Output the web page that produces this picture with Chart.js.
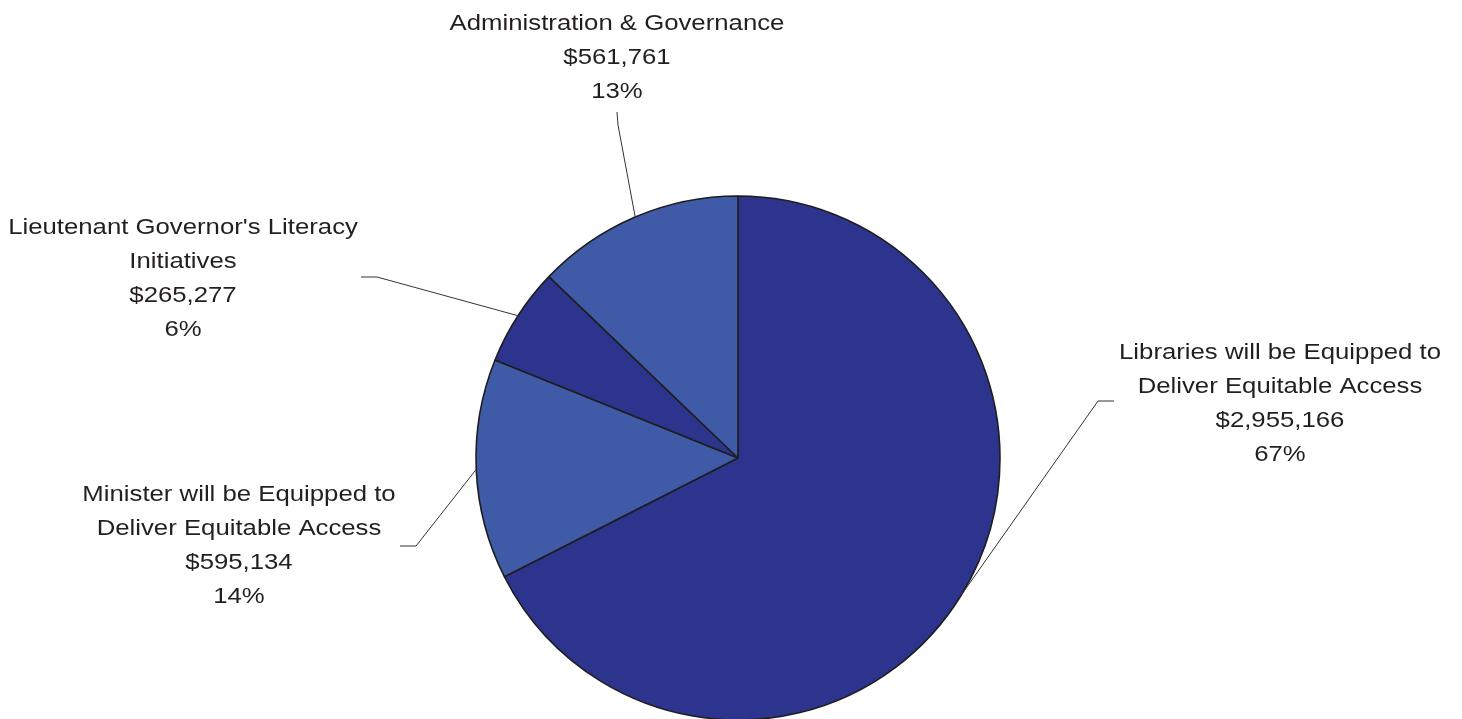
<!DOCTYPE html>
<html>
<head>
<meta charset="utf-8">
<script src="https://cdn.jsdelivr.net/npm/chart.js@4/dist/chart.umd.min.js"></script>
<style>
  html, body { margin: 0; padding: 0; background: #fff; overflow: hidden; }
  #wrap { position: relative; width: 1462px; height: 724px; }
</style>
</head>
<body>
<div id="wrap"><canvas id="pie"></canvas></div>
<script>
  // Data
  const categories = [
    'Libraries will be Equipped to Deliver Equitable Access',
    'Minister will be Equipped to Deliver Equitable Access',
    "Lieutenant Governor's Literacy Initiatives",
    'Administration & Governance'
  ];
  const labelLines = [
    ['Libraries will be Equipped to', 'Deliver Equitable Access'],
    ['Minister will be Equipped to', 'Deliver Equitable Access'],
    ["Lieutenant Governor's Literacy", 'Initiatives'],
    ['Administration & Governance']
  ];
  const amounts = [2955166, 595134, 265277, 561761];
  const percentLabels = ['67%', '14%', '6%', '13%'];
  const sliceColors = ['#2d348e', '#3f5ba8', '#2d348e', '#3f5ba8'];

  // where each callout sits: text centre, first line y, elbow and end of the leader
  const callouts = [
    { x: 1280, y: 353, elbow: [1098, 401], end: [1114, 401] },
    { x: 239, y: 495, elbow: [416, 546], end: [400, 546] },
    { x: 183, y: 228, elbow: [377, 277], end: [361, 277] },
    { x: 617, y: 24, elbow: [618, 125], end: [617, 112] }
  ];
  const lineGap = 34;

  const fmtMoney = v => '$' + Number(v).toLocaleString('en-US');

  const calloutPlugin = {
    id: 'callouts',
    afterDatasetsDraw(chart) {
      const ctx = chart.ctx;
      const meta = chart.getDatasetMeta(0);
      ctx.save();
      meta.data.forEach((arc, i) => {
        const c = callouts[i];
        const mid = (arc.startAngle + arc.endAngle) / 2;
        const ex = arc.x + Math.cos(mid) * arc.outerRadius;
        const ey = arc.y + Math.sin(mid) * arc.outerRadius;

        ctx.strokeStyle = '#333';
        ctx.lineWidth = 1;
        ctx.beginPath();
        ctx.moveTo(ex, ey);
        ctx.lineTo(c.elbow[0], c.elbow[1]);
        ctx.lineTo(c.end[0], c.end[1]);
        ctx.stroke();

        const lines = labelLines[i].concat([fmtMoney(amounts[i]), percentLabels[i]]);
        ctx.fillStyle = '#231f20';
        ctx.font = '22px "Liberation Sans", Arial, sans-serif';
        ctx.textAlign = 'center';
        ctx.textBaseline = 'middle';
        lines.forEach((t, k) => {
          ctx.save();
          ctx.translate(c.x, c.y + k * lineGap);
          ctx.scale(1.17, 1);
          ctx.fillText(t, 0, 0);
          ctx.restore();
        });
      });
      ctx.restore();
    }
  };

  new Chart(document.getElementById('pie'), {
    type: 'pie',
    data: {
      labels: categories,
      datasets: [{
        data: amounts,
        backgroundColor: sliceColors,
        borderColor: '#1e1e1e',
        borderWidth: 1.6,
        hoverOffset: 0,
        radius: 262
      }]
    },
    options: {
      responsive: true,
      maintainAspectRatio: false,
      animation: false,
      layout: { padding: { left: 476, right: 462, top: 196, bottom: 4 } },
      plugins: {
        legend: { display: false },
        tooltip: { enabled: false }
      }
    },
    plugins: [calloutPlugin]
  });
</script>
</body>
</html>
